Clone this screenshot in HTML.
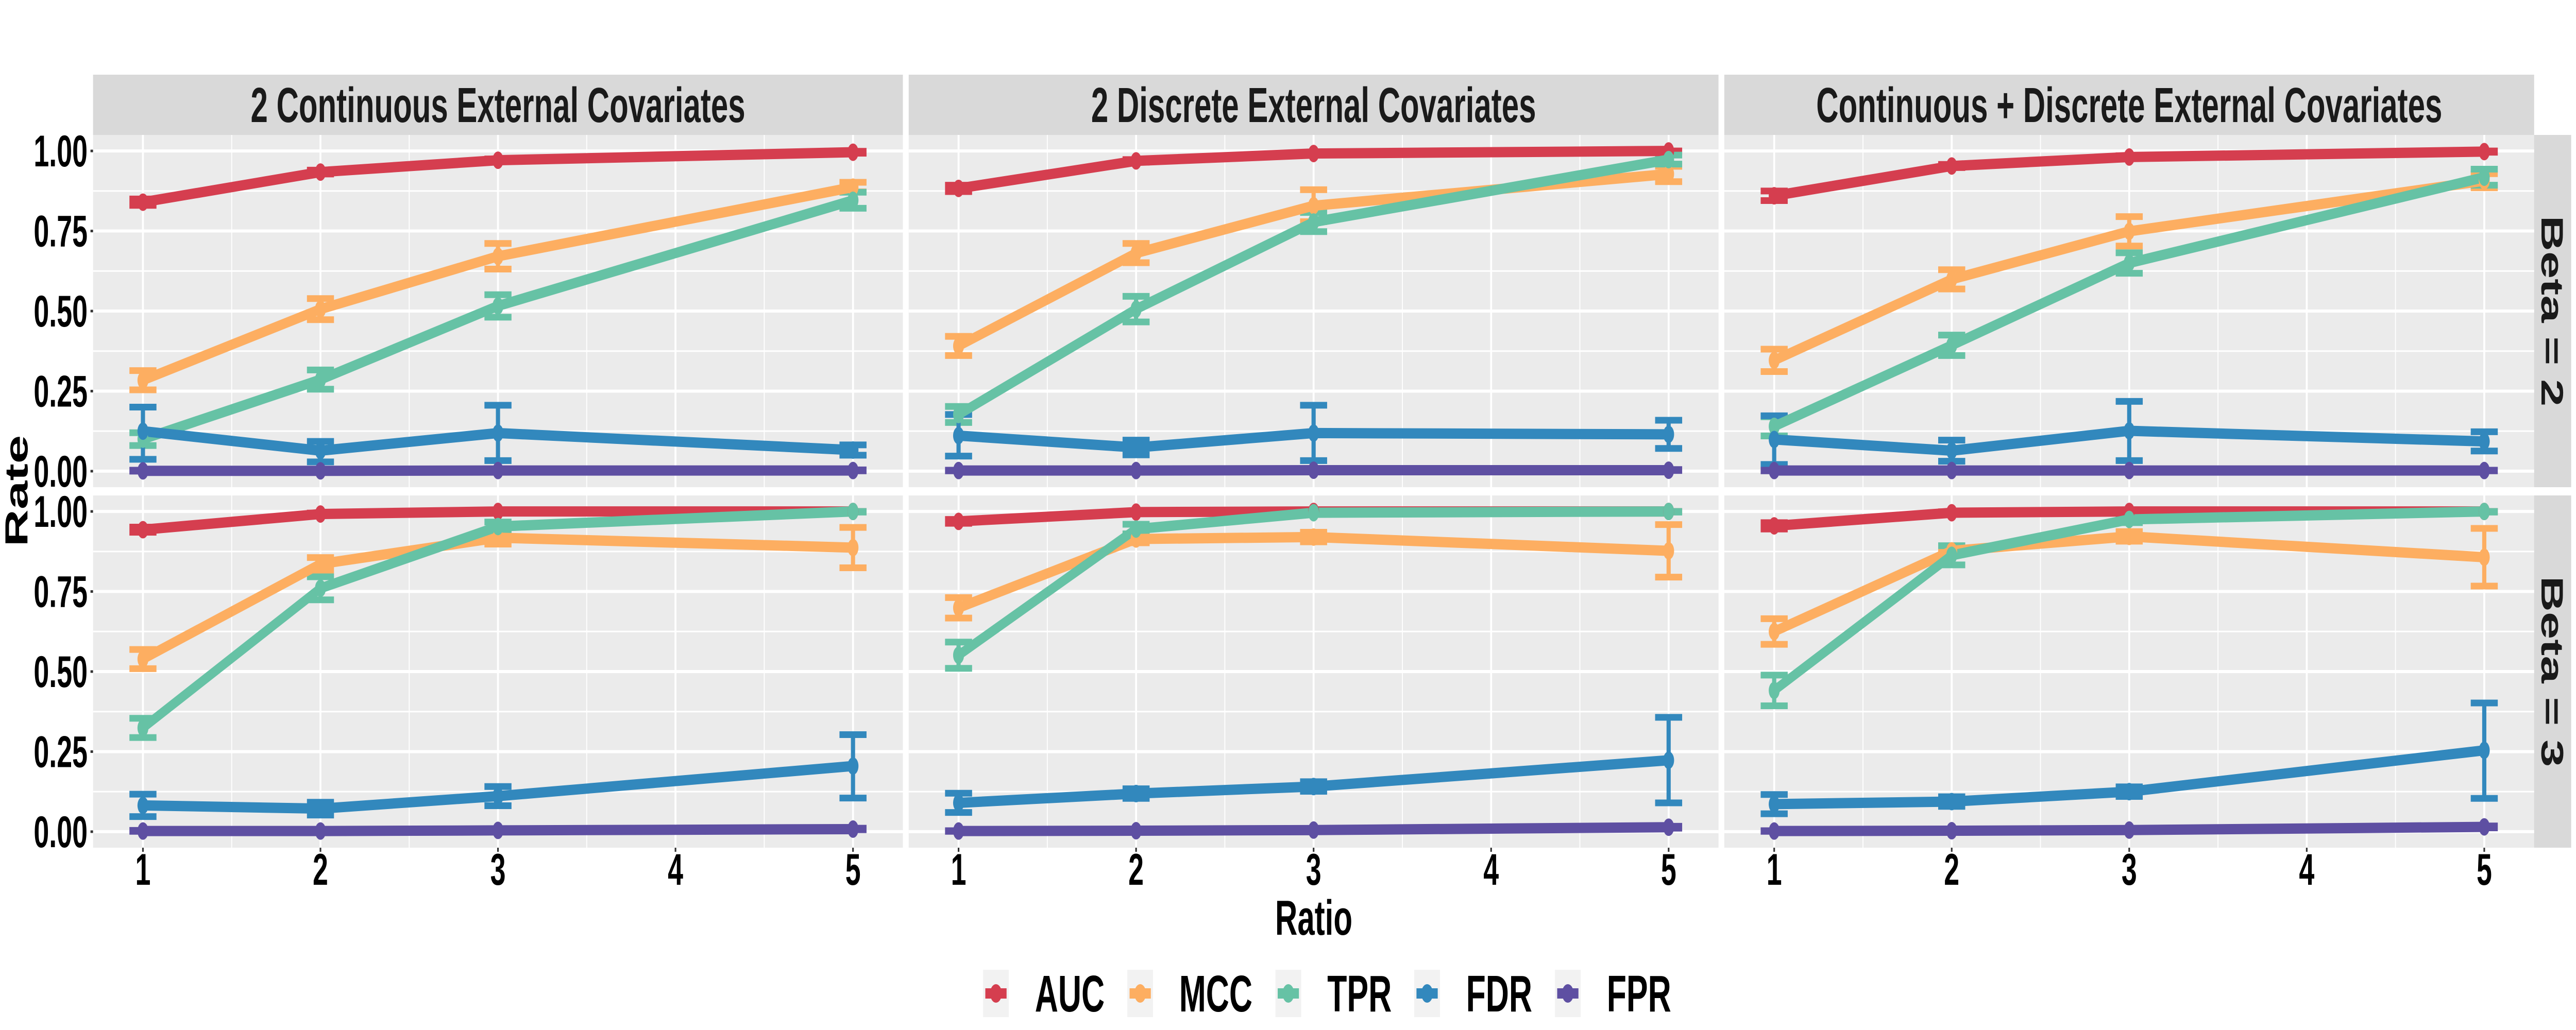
<!DOCTYPE html>
<html><head><meta charset="utf-8"><style>
html,body{margin:0;padding:0;background:#fff;width:100vw;height:100vh;overflow:hidden}
svg{display:block;width:100vw;height:100vh;overflow:hidden}
text{font-family:"Liberation Sans",Arial,sans-serif;font-weight:bold}
</style></head><body>
<svg id="chart" viewBox="0 0 8000 2000" preserveAspectRatio="none" xmlns="http://www.w3.org/2000/svg"></svg>
<script>
const xValues = [1, 2, 3, 5];
const xTicks = [1, 2, 3, 4, 5];
const yTicks = [0, 0.25, 0.5, 0.75, 1.0];
const yTickLabels = ["0.00", "0.25", "0.50", "0.75", "1.00"];
const metrics = ["AUC", "MCC", "TPR", "FDR", "FPR"];
const colors = ["#D53E4F", "#FDAE61", "#66C2A5", "#3288BD", "#5E4FA2"];
const panelTitles = ["2 Continuous External Covariates", "2 Discrete External Covariates", "Continuous + Discrete External Covariates"];
const rowTitles = ["Beta = 2", "Beta = 3"];

// panel 1, beta 2
const p1b2Mean = [[0.84,0.934,0.971,0.996],[0.284,0.506,0.671,0.887],[0.10,0.286,0.516,0.846],[0.125,0.064,0.119,0.066],[0.001,0.001,0.002,0.002]];
const p1b2Lo   = [[0.83,0.928,0.967,0.993],[0.254,0.473,0.631,0.872],[0.08,0.256,0.481,0.821],[0.037,0.029,0.033,0.05],[0,0,0.001,0.001]];
const p1b2Hi   = [[0.85,0.94,0.975,0.999],[0.314,0.539,0.711,0.902],[0.12,0.316,0.551,0.871],[0.20,0.093,0.206,0.082],[0.003,0.003,0.004,0.004]];
// panel 1, beta 3
const p1b3Mean = [[0.943,0.992,1.0,1.0],[0.539,0.836,0.918,0.887],[0.324,0.76,0.953,1.0],[0.082,0.072,0.111,0.205],[0.002,0.002,0.004,0.008]];
const p1b3Lo   = [[0.935,0.99,0.998,0.999],[0.509,0.816,0.898,0.824],[0.294,0.724,0.939,0.998],[0.047,0.052,0.081,0.105],[0.001,0.001,0.003,0.006]];
const p1b3Hi   = [[0.951,0.995,1,1],[0.569,0.856,0.938,0.95],[0.354,0.796,0.967,1],[0.117,0.092,0.141,0.303],[0.004,0.004,0.006,0.011]];
// panel 2, beta 2
const p2b2Mean = [[0.883,0.969,0.992,1.0],[0.391,0.681,0.829,0.928],[0.177,0.506,0.778,0.973],[0.111,0.074,0.119,0.115],[0.002,0.002,0.003,0.003]];
const p2b2Lo   = [[0.873,0.965,0.99,0.998],[0.361,0.651,0.779,0.904],[0.152,0.466,0.748,0.959],[0.047,0.051,0.033,0.071],[0.001,0.001,0.002,0.002]];
const p2b2Hi   = [[0.893,0.973,0.995,1],[0.421,0.711,0.879,0.952],[0.202,0.546,0.808,0.987],[0.177,0.097,0.206,0.159],[0.003,0.003,0.005,0.005]];
// panel 2, beta 3
const p2b3Mean = [[0.969,0.998,1.0,1.0],[0.699,0.914,0.92,0.877],[0.551,0.945,0.996,1.0],[0.09,0.119,0.141,0.223],[0.002,0.003,0.005,0.014]];
const p2b3Lo   = [[0.963,0.996,0.999,0.999],[0.667,0.902,0.905,0.795],[0.51,0.93,0.991,0.998],[0.06,0.104,0.126,0.09],[0.001,0.002,0.004,0.011]];
const p2b3Hi   = [[0.975,1,1,1],[0.731,0.926,0.935,0.959],[0.592,0.96,1,1],[0.12,0.134,0.156,0.357],[0.003,0.004,0.006,0.017]];
// panel 3, beta 2
const p3b2Mean = [[0.86,0.953,0.981,0.998],[0.346,0.599,0.749,0.907],[0.14,0.393,0.65,0.918],[0.099,0.064,0.126,0.093],[0.002,0.002,0.002,0.002]];
const p3b2Lo   = [[0.845,0.948,0.977,0.996],[0.311,0.569,0.703,0.885],[0.11,0.361,0.618,0.893],[0.021,0.031,0.033,0.063],[0.001,0.001,0.001,0.001]];
const p3b2Hi   = [[0.875,0.958,0.985,1],[0.381,0.629,0.795,0.929],[0.17,0.425,0.682,0.943],[0.173,0.097,0.218,0.123],[0.003,0.003,0.003,0.003]];
// panel 3, beta 3
const p3b3Mean = [[0.955,0.996,1.0,1.0],[0.625,0.877,0.922,0.857],[0.441,0.863,0.975,1.0],[0.086,0.094,0.125,0.254],[0.002,0.003,0.005,0.015]];
const p3b3Lo   = [[0.945,0.993,0.999,0.999],[0.585,0.867,0.907,0.767],[0.393,0.833,0.965,0.998],[0.056,0.079,0.11,0.104],[0.001,0.002,0.004,0.012]];
const p3b3Hi   = [[0.965,0.999,1,1],[0.665,0.887,0.937,0.947],[0.489,0.893,0.985,1],[0.116,0.109,0.14,0.402],[0.003,0.004,0.006,0.018]];

const means = [[p1b2Mean,p1b3Mean],[p2b2Mean,p2b3Mean],[p3b2Mean,p3b3Mean]];
const los = [[p1b2Lo,p1b3Lo],[p2b2Lo,p2b3Lo],[p3b2Lo,p3b3Lo]];
const his = [[p1b2Hi,p1b3Hi],[p2b2Hi,p2b3Hi],[p3b2Hi,p3b3Hi]];

const NS = "http://www.w3.org/2000/svg";
const svg = document.getElementById("chart");
function mk(tag, attrs, parent, txt) {
  const e = document.createElementNS(NS, tag);
  for (const k in attrs) e.setAttribute(k, attrs[k]);
  if (txt !== undefined) e.textContent = txt;
  (parent || svg).appendChild(e);
  return e;
}
const panelLefts = [289, 2822, 5355];
const panelW = 2515;
const rowTops = [262, 962];
const rowH = 684;
const xMin = 0.719, xMax = 5.281;
function xScale(p, v) { return panelLefts[p] + (v - xMin) / (xMax - xMin) * panelW; }
function yScale(r, v) { return rowTops[r] + rowH - (v + 0.05) / 1.1 * rowH; }

for (let p = 0; p < 3; p++) {
  const s = mk("rect", {x: panelLefts[p], y: 145, width: panelW, height: 117, fill: "#D9D9D9"});
  
  
  const t = mk("text", {x: panelLefts[p] + panelW/2, y: 237, "font-size": 96, "text-anchor": "middle", fill: "#1A1A1A"}, svg, panelTitles[p]);
  
  
}
for (let r = 0; r < 2; r++) {
  const s = mk("rect", {x: 7869, y: rowTops[r], width: 116, height: rowH, fill: "#D9D9D9"});
  
  
  const cy = rowTops[r] + rowH/2;
  const t = mk("text", {x: 7893, y: cy, "font-size": 96, "text-anchor": "middle", fill: "#1A1A1A", transform: "rotate(90 7893 " + cy + ")"}, svg, rowTitles[r]);
  
  
}

for (let p = 0; p < 3; p++) {
  for (let r = 0; r < 2; r++) {
    const g = mk("g", {});
    
    
    mk("rect", {x: panelLefts[p], y: rowTops[r], width: panelW, height: rowH, fill: "#EBEBEB"}, g);
    for (let i = 0; i < yTicks.length - 1; i++) {
      const yy = yScale(r, (yTicks[i] + yTicks[i+1]) / 2);
      mk("line", {x1: panelLefts[p], x2: panelLefts[p] + panelW, y1: yy, y2: yy, stroke: "#fff", "stroke-width": 3}, g);
    }
    for (let i = 0; i < xTicks.length - 1; i++) {
      const xx = xScale(p, (xTicks[i] + xTicks[i+1]) / 2);
      mk("line", {x1: xx, x2: xx, y1: rowTops[r], y2: rowTops[r] + rowH, stroke: "#fff", "stroke-width": 3}, g);
    }
    for (const v of yTicks) {
      const yy = yScale(r, v);
      mk("line", {x1: panelLefts[p], x2: panelLefts[p] + panelW, y1: yy, y2: yy, stroke: "#fff", "stroke-width": 6}, g);
    }
    for (const v of xTicks) {
      const xx = xScale(p, v);
      mk("line", {x1: xx, x2: xx, y1: rowTops[r], y2: rowTops[r] + rowH, stroke: "#fff", "stroke-width": 6}, g);
    }
    const M = means[p][r], L = los[p][r], H = his[p][r];
    for (let m = 0; m < metrics.length; m++) {
      for (let i = 0; i < xValues.length; i++) {
        const xx = xScale(p, xValues[i]);
        const y1 = yScale(r, L[m][i]), y2 = yScale(r, H[m][i]);
        const eb = mk("path", {d: "M" + (xx-42) + " " + y1 + "H" + (xx+42) + "M" + xx + " " + y1 + "V" + y2 + "M" + (xx-42) + " " + y2 + "H" + (xx+42), stroke: colors[m], "stroke-width": 13, fill: "none"}, g);
        
        
      }
    }
    for (let m = 0; m < metrics.length; m++) {
      const pts = xValues.map((xv, i) => xScale(p, xv) + "," + yScale(r, M[m][i])).join(" ");
      const ln = mk("polyline", {points: pts, stroke: colors[m], "stroke-width": 20, fill: "none"}, g);
      
      
    }
    for (let m = 0; m < metrics.length; m++) {
      for (let i = 0; i < xValues.length; i++) {
        const c = mk("circle", {cx: xScale(p, xValues[i]), cy: yScale(r, M[m][i]), r: 17, fill: colors[m]}, g);
        
        
      }
    }
  }
  for (const v of xTicks) {
    const xx = xScale(p, v);
    mk("line", {x1: xx, x2: xx, y1: 1646, y2: 1654, stroke: "#333", "stroke-width": 5});
    const t = mk("text", {x: xx, y: 1718, "font-size": 86, "text-anchor": "middle", fill: "#000"}, svg, String(v));
    
    
  }
}
for (let r = 0; r < 2; r++) {
  for (let i = 0; i < yTicks.length; i++) {
    const yy = yScale(r, yTicks[i]);
    mk("line", {x1: 281, x2: 289, y1: yy, y2: yy, stroke: "#333", "stroke-width": 5});
    const t = mk("text", {x: 272, y: yy + 30, "font-size": 86, "text-anchor": "end", fill: "#000"}, svg, yTickLabels[i]);
    
    
  }
}
const xt = mk("text", {x: 4080, y: 1815, "font-size": 96, "text-anchor": "middle", fill: "#000"}, svg, "Ratio");


const yt = mk("text", {x: 86, y: 953, "font-size": 100, "text-anchor": "middle", fill: "#000", transform: "rotate(-90 86 953)"}, svg, "Rate");



const keyX = [3053, 3501, 3961, 4392, 4829];
for (let m = 0; m < metrics.length; m++) {
  const g = mk("g", {});
  
  
  mk("rect", {x: keyX[m], y: 1883, width: 80, height: 92, fill: "#F2F2F2"}, g);
  mk("line", {x1: keyX[m] + 7, x2: keyX[m] + 73, y1: 1929, y2: 1929, stroke: colors[m], "stroke-width": 20}, g);
  mk("circle", {cx: keyX[m] + 40, cy: 1929, r: 18, fill: colors[m]}, g);
  mk("text", {x: keyX[m] + 161, y: 1964, "font-size": 100, fill: "#000"}, g, metrics[m]);
}
</script>
</body></html>
